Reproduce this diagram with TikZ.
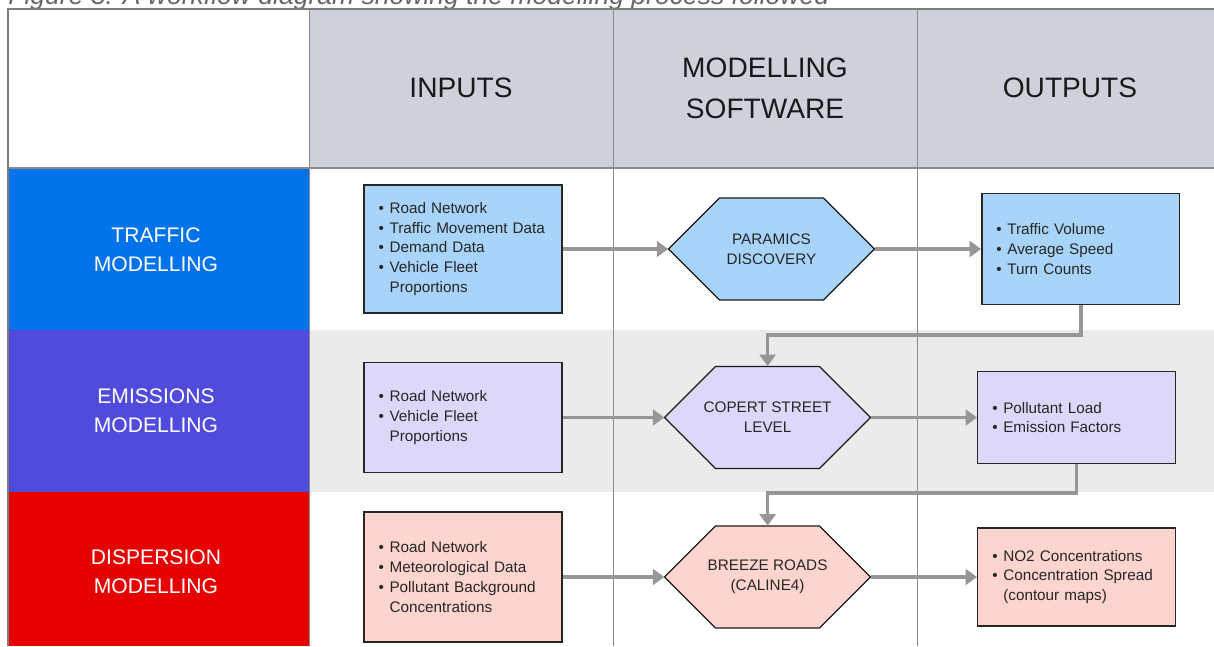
\documentclass[tikz,border=0pt]{standalone}
\usepackage{fontspec}
\setmainfont{Liberation Sans}
\usepackage{xcolor}
\usepackage{tikz}
\usetikzlibrary{calc,positioning,arrows.meta}
\definecolor{hdr}{HTML}{CDD1DA}
\definecolor{traf}{HTML}{0073EA}
\definecolor{emis}{HTML}{504BDD}
\definecolor{disp}{HTML}{E60000}
\definecolor{band}{HTML}{EBEBEB}
\definecolor{trafl}{HTML}{A8D4FA}
\definecolor{emisl}{HTML}{DCD8FA}
\definecolor{displ}{HTML}{FDD4CE}
\definecolor{rule}{HTML}{8A8A8A}
\definecolor{flow}{HTML}{969696}
\newcommand{\bl}{\makebox[6.2pt][l]{\textbullet}}
\newcommand{\ind}{\hspace*{6.2pt}}

\begin{document}
\begin{tikzpicture}[x=0.02cm,y=-0.02cm,
  head/.style={align=center,text=black!90,font=\fontsize{16}{23.2}\selectfont},
  lab/.style={align=center,text=white,font=\fontsize{12}{16.4}\selectfont},
  box/.style={draw=black!85,line width=0.8pt,minimum width=3.96cm,text width=96pt,inner xsep=8.1pt,align=left,text=black!85,font=\fontsize{8.7}{11.3}\selectfont},
  hexn/.style={minimum width=4.12cm,minimum height=2.04cm,inner sep=0pt,align=center,text=black!85,font=\fontsize{8.7}{11.3}\selectfont},
  flow/.style={draw=flow,line width=2pt,-{Triangle[length=6.5pt,width=9pt]}}]
\path[use as bounding box,clip] (0,0) rectangle (1214,646);
\def\hexa#1#2#3#4#5{\filldraw[fill=#4,draw=black!90,line width=0.7pt] ({#2-103},#3) -- ({#2-52},{#3-51}) -- ({#2+52},{#3-51}) -- ({#2+103},#3) -- ({#2+52},{#3+51}) -- ({#2-52},{#3+51}) -- cycle; \node[hexn] (#1) at (#2,#3) {#5};}
% caption, cut by the page edge
\node[anchor=base west,inner sep=0pt,text=black!60,font=\itshape\fontsize{15.1}{18}\selectfont] (cap) at (8,4) {Figure 3: A workflow diagram showing the modelling process followed};
% table
\fill[hdr] (309,9) rectangle (1214,168);
\fill[traf] (8,168) rectangle (309,330);
\fill[emis] (8,330) rectangle (309,492);
\fill[disp] (8,492) rectangle (309,646);
\fill[band] (309,330) rectangle (1214,492);
\foreach \x in {309,613,917} \draw[rule,line width=0.5pt] (\x,9) -- (\x,646);
\draw[rule,line width=0.6pt] (8,168) -- (1214,168);
\draw[rule!90!black,line width=1.2pt] (8,646) -- (8,9) -- (1214,9);
\node[head] (hin) at (461,88) {INPUTS};
\node[head] (hsw) at (765,88) {MODELLING\\SOFTWARE};
\node[head] (hout) at (1070,88) {OUTPUTS};
\node[lab] (ltraf) at (156,250) {TRAFFIC\\MODELLING};
\node[lab] (lemis) at (156,411) {EMISSIONS\\MODELLING};
\node[lab] (ldisp) at (156,572) {DISPERSION\\MODELLING};
% inputs
\node[box,fill=trafl,minimum height=2.56cm] (in1) at (463,249) {\bl Road Network\\\bl Traffic Movement Data\\\bl Demand Data\\\bl Vehicle Fleet\\\ind Proportions};
\node[box,fill=emisl,minimum height=2.2cm] (in2) at (463,417.5) {\bl Road Network\\\bl Vehicle Fleet\\\ind Proportions};
\node[box,fill=displ,minimum height=2.6cm] (in3) at (463,577) {\bl Road Network\\\bl Meteorological Data\\\bl Pollutant Background\\\ind Concentrations};
% software
\hexa{hx1}{771.5}{249}{trafl}{PARAMICS\\DISCOVERY}
\hexa{hx2}{767.6}{417.5}{emisl}{COPERT STREET\\LEVEL}
\hexa{hx3}{767.6}{577}{displ}{BREEZE ROADS\\(CALINE4)}
% outputs
\node[box,fill=trafl,minimum height=2.22cm] (out1) at (1080.8,249) {\bl Traffic Volume\\\bl Average Speed\\\bl Turn Counts};
\node[box,fill=emisl,minimum height=1.84cm] (out2) at (1076.7,417.5) {\bl Pollutant Load\\\bl Emission Factors};
\node[box,fill=displ,minimum height=1.96cm] (out3) at (1076.7,577) {\bl NO2 Concentrations\\\bl Concentration Spread\\\ind (contour maps)};
% flow
\foreach \r in {1,2,3}{
  \draw[flow] (in\r.east) -- (hx\r.west);
  \draw[flow] (hx\r.east) -- (out\r.west);}
\draw[flow] (out1.south) -- ++(0,30) -| (hx2.north);
\draw[flow] (out2.south) -- ++(0,29) -| (hx3.north);
\end{tikzpicture}
\end{document}
